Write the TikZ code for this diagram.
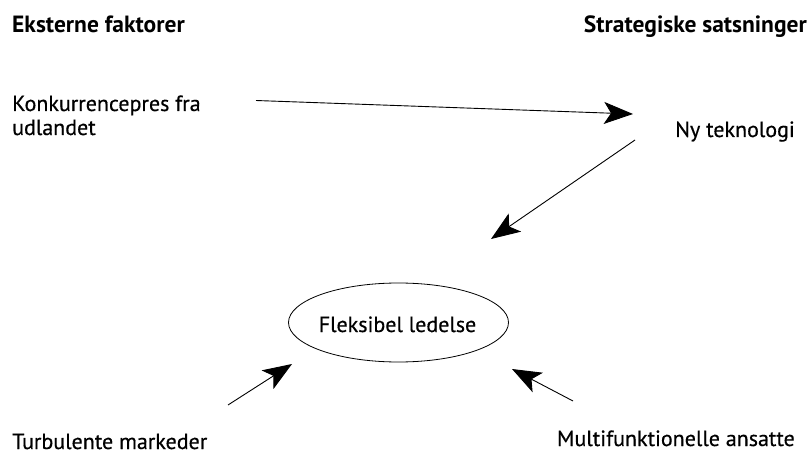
\documentclass[tikz,border=0pt]{standalone}
\usepackage{fontspec}
\setmainfont{PT Sans}
\newfontfamily\dkfont[FakeBold=0.5]{PT Sans}
\usetikzlibrary{arrows.meta,shapes.geometric}
\begin{document}
\begin{tikzpicture}[x=1pt,y=-1pt,
  lbl/.style={inner sep=0pt,font=\dkfont\fontsize{22}{24}\selectfont},
  hdr/.style={inner sep=0pt,font=\fontsize{23.5}{24}\selectfont\bfseries},
  arr/.style={line width=0.9pt,-{Stealth[length=29pt,width=22pt,inset=7pt]}}]
\useasboundingbox (0,0) rectangle (811,454);
\node[hdr,anchor=base west] (ek) at (12,33) {Eksterne faktorer};
\node[hdr,anchor=base east] (st) at (807,33) {Strategiske satsninger};
\node[lbl,anchor=base west,align=left] (ko) at (12,135) {Konkurrencepres fra\\udlandet};
\node[lbl,anchor=base east] (ny) at (795,137) {Ny teknologi};
\node[ellipse,draw,line width=0.8pt,minimum width=220pt,minimum height=79pt,inner sep=0pt] (fl) at (398.5,322.5) {};
\node[lbl,anchor=base] (fltxt) at (397.5,332) {Fleksibel ledelse};
\node[lbl,anchor=base west] (tu) at (12,449) {Turbulente markeder};
\node[lbl,anchor=base east] (mu) at (795,446) {Multifunktionelle ansatte};
\coordinate (a1s) at (256,100.5);
\coordinate (a1e) at (633,114);
\coordinate (a2s) at (635,140);
\coordinate (a2e) at (491,239);
\coordinate (a3s) at (228,405);
\coordinate (a3e) at (292,364);
\coordinate (a4s) at (573,401);
\coordinate (a4e) at (512,369);
\draw[arr] (a1s) -- (a1e);
\draw[arr] (a2s) -- (a2e);
\draw[arr] (a3s) -- (a3e);
\draw[arr] (a4s) -- (a4e);
\end{tikzpicture}
\end{document}
